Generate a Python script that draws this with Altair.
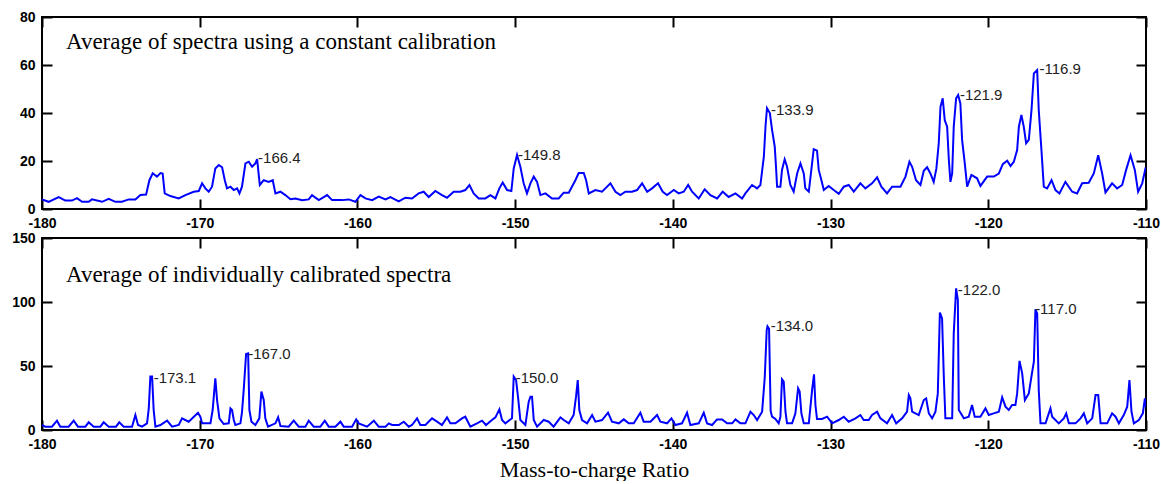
import altair as alt
import pandas as pd

# ---------------- data ----------------
top_mz = [-180.00, -179.58, -178.94, -178.52, -178.10, -177.78, -177.46, -177.04, -176.83, -176.19,
          -175.77, -175.35, -174.93, -174.50, -174.08, -173.76, -173.40, -173.19, -172.98, -172.71,
          -172.49, -172.35, -172.22, -171.86, -171.33, -170.91, -170.38, -170.06, -169.85, -169.64,
          -169.43, -169.22, -169.01, -168.79, -168.58, -168.41, -168.27, -168.05, -167.84, -167.63,
          -167.48, -167.32, -167.10, -166.89, -166.68, -166.47, -166.36, -166.19, -165.94, -165.62,
          -165.37, -165.20, -164.88, -164.57, -164.25, -163.93, -163.51, -163.09, -162.88, -162.45,
          -161.92, -161.61, -160.97, -160.55, -160.13, -159.81, -159.49, -159.07, -158.65, -158.22,
          -157.91, -157.38, -156.96, -156.54, -156.12, -155.80, -155.48, -155.06, -154.64, -154.32,
          -153.90, -153.47, -153.16, -152.90, -152.63, -152.31, -151.89, -151.57, -151.25, -151.00,
          -150.79, -150.51, -150.24, -150.09, -149.88, -149.67, -149.46, -149.25, -149.03, -148.82,
          -148.61, -148.40, -148.08, -147.66, -147.24, -146.92, -146.60, -146.18, -145.97, -145.65,
          -145.50, -145.33, -144.91, -144.49, -144.28, -143.96, -143.64, -143.33, -143.01, -142.59,
          -142.27, -141.95, -141.63, -141.32, -140.94, -140.64, -140.37, -139.94, -139.63, -139.31,
          -139.03, -138.78, -138.36, -137.98, -137.62, -137.19, -136.84, -136.46, -136.03, -135.61,
          -135.40, -134.98, -134.66, -134.45, -134.23, -134.12, -134.03, -133.85, -133.71, -133.54,
          -133.46, -133.39, -133.18, -133.08, -132.91, -132.76, -132.55, -132.34, -132.12, -131.91,
          -131.70, -131.60, -131.38, -131.22, -131.07, -130.86, -130.75, -130.58, -130.43, -130.12,
          -129.80, -129.48, -129.16, -128.85, -128.53, -128.11, -127.79, -127.37, -127.05, -126.78,
          -126.42, -126.10, -125.57, -125.25, -125.00, -124.83, -124.58, -124.30, -124.09, -123.88,
          -123.67, -123.46, -123.29, -123.14, -123.03, -122.89, -122.76, -122.61, -122.50, -122.40,
          -122.29, -122.19, -122.04, -121.91, -121.77, -121.66, -121.49, -121.34, -121.07, -120.71,
          -120.50, -120.07, -119.65, -119.33, -119.08, -118.80, -118.59, -118.38, -118.17, -118.06,
          -117.90, -117.75, -117.60, -117.43, -117.26, -117.11, -116.90, -116.80, -116.63, -116.48,
          -116.27, -115.99, -115.74, -115.49, -115.11, -114.68, -114.37, -114.05, -113.63, -113.31,
          -113.03, -112.78, -112.57, -112.15, -111.83, -111.51, -111.26, -110.98, -110.71, -110.50,
          -110.24, -110.03, -110.00]
top_int = [4, 3, 5, 3.5, 3.5, 4.5, 3, 3, 4, 3,
           4.2, 3, 3, 4, 4, 5.8, 6, 12, 14.9, 13.5,
           15, 14.8, 6.5, 5.4, 4.4, 5.8, 7.2, 7.5, 10.7, 8.6,
           7.2, 9.3, 16.9, 18.3, 17.4, 12, 8.6, 9.3, 7.9, 8.6,
           6.5, 9.3, 19, 19.7, 17.6, 19, 20.8, 10, 12, 11.3,
           12, 6.5, 7.2, 5.8, 4.1, 4.4, 3.7, 4, 5.8, 3.7,
           5.8, 3.7, 3.7, 4, 3, 5.8, 4.4, 3.7, 5.2, 4,
           5, 3.2, 4.7, 4.4, 6.5, 7.2, 5, 7.5, 5.8, 4.7,
           7.2, 7.2, 7.9, 10, 6.5, 4.4, 4.4, 5.8, 4.4, 8.6,
           11, 7.9, 7.5, 16.9, 22.5, 17.6, 10.7, 6.5, 10.7, 13.5,
           11.3, 5.8, 6.5, 4.4, 4.4, 6.8, 6.8, 12, 15, 15,
           12, 6.5, 7.9, 7.2, 8.6, 10.7, 7.2, 5.8, 7.2, 7.2,
           7.9, 10.7, 7.2, 8.6, 10.7, 7.2, 5.8, 7.9, 6.5, 7.2,
           10, 7.2, 4.4, 8.2, 5.8, 4.4, 7.2, 5, 6.5, 4.4,
           6.5, 10, 8.6, 10, 21.8, 35, 42, 40, 33, 26,
           17.6, 9.3, 9.3, 16.3, 20.7, 17.6, 10, 7.2, 14.8, 19,
           14.8, 8.6, 7.2, 16.3, 24.9, 24.3, 16.3, 12, 7.9, 9.6,
           7.9, 6.3, 9.3, 10, 7.2, 10.7, 8.6, 10.7, 13.2, 9.3,
           6.5, 9.3, 9.3, 13.5, 19.7, 17.6, 12, 10, 15.9, 17.4,
           14.8, 11.3, 16.9, 27.4, 42.6, 46.1, 37, 34.3, 20.4, 11.3,
           14.8, 34.3, 46.1, 47.5, 44, 28.8, 19, 9.3, 14.2, 12.8,
           9.6, 13.5, 13.5, 14.8, 18.7, 20.1, 17.9, 19.7, 24.6, 34.3,
           39.2, 34.3, 27.4, 28.8, 41.2, 56.5, 57.9, 41.2, 24.6, 9.3,
           8.6, 12, 7.9, 6.5, 11.3, 7.2, 6.5, 10.7, 10.9, 14.8,
           22.4, 14.8, 6.9, 10.7, 8.6, 10, 16.3, 22.4, 16.3, 7.2,
           10.7, 17, 17]

bot_mz = [-180.00, -179.79, -179.37, -179.05, -178.84, -178.31, -177.99, -177.72, -177.25, -177.04,
          -176.72, -176.30, -176.09, -175.77, -175.31, -175.10, -174.82, -174.29, -174.08, -173.91,
          -173.66, -173.34, -173.23, -173.13, -173.02, -172.92, -172.81, -172.49, -172.07, -171.75,
          -171.33, -171.12, -170.70, -170.11, -169.96, -169.85, -169.32, -169.18, -169.01, -168.90,
          -168.75, -168.48, -168.16, -168.05, -167.95, -167.84, -167.74, -167.42, -167.32, -167.21,
          -167.06, -166.93, -166.85, -166.72, -166.47, -166.22, -166.09, -165.94, -165.84, -165.67,
          -165.20, -165.03, -164.88, -164.36, -164.04, -163.72, -163.30, -163.09, -162.77, -162.35,
          -162.07, -161.82, -161.40, -161.08, -160.87, -160.34, -160.08, -159.92, -159.39, -158.96,
          -158.65, -158.22, -158.01, -157.80, -157.38, -157.06, -156.74, -156.54, -156.22, -156.01,
          -155.69, -155.27, -154.95, -154.64, -154.32, -154.11, -153.79, -153.37, -153.16, -152.84,
          -152.42, -152.10, -151.85, -151.47, -151.25, -151.00, -150.83, -150.62, -150.20, -150.09,
          -149.94, -149.82, -149.67, -149.35, -149.14, -149.03, -148.93, -148.82, -148.61, -148.19,
          -147.87, -147.56, -147.13, -146.92, -146.60, -146.29, -146.14, -146.03, -145.93, -145.76,
          -145.44, -145.12, -144.91, -144.49, -144.11, -143.86, -143.43, -143.11, -142.80, -142.48,
          -142.06, -141.85, -141.42, -141.00, -140.79, -140.37, -140.09, -139.84, -139.42, -139.10,
          -138.89, -138.36, -138.04, -137.83, -137.51, -137.20, -136.88, -136.56, -136.24, -136.03,
          -135.72, -135.40, -135.08, -134.87, -134.66, -134.34, -134.17, -134.05, -134.00, -133.90,
          -133.80, -133.71, -133.50, -133.29, -133.18, -133.08, -132.97, -132.86, -132.76, -132.44,
          -132.23, -132.06, -131.96, -131.85, -131.70, -131.38, -131.17, -131.05, -130.96, -130.86,
          -130.54, -130.22, -129.90, -129.48, -129.16, -128.85, -128.42, -128.11, -127.90, -127.58,
          -127.37, -127.05, -126.84, -126.42, -126.10, -125.84, -125.46, -125.15, -125.04, -124.94,
          -124.83, -124.41, -124.09, -123.94, -123.77, -123.56, -123.35, -123.20, -123.07, -122.93,
          -122.82, -122.72, -122.29, -122.19, -122.04, -121.93, -121.87, -121.55, -121.24, -121.03,
          -120.86, -120.50, -120.18, -119.97, -119.65, -119.33, -119.12, -118.91, -118.70, -118.49,
          -118.28, -118.17, -118.02, -117.85, -117.68, -117.43, -117.26, -117.11, -117.01, -116.90,
          -116.80, -116.69, -116.37, -116.06, -115.95, -115.53, -115.21, -115.06, -114.89, -114.47,
          -114.15, -113.94, -113.73, -113.41, -113.20, -113.03, -112.88, -112.46, -112.15, -111.93,
          -111.72, -111.41, -111.19, -111.05, -110.92, -110.77, -110.45, -110.20, -110.07, -110.00]
bot_int = [3.9, 2.6, 2.6, 7.3, 2.6, 2.6, 7.3, 2.6, 2.6, 6,
           2.6, 2.6, 6, 2.6, 2.6, 6, 2.6, 2.6, 11.7, 3.9,
           2.6, 5.2, 16.9, 41.7, 41.7, 15.6, 2.6, 3.9, 7.3, 2.6,
           3.9, 9.1, 6.5, 13.5, 10.4, 5.2, 5.2, 15.6, 40.4, 23.4,
           9.1, 4.7, 5.2, 16.9, 15.6, 7.8, 3.9, 5.2, 13.8, 31.3,
           59.4, 59.9, 15.6, 6.5, 3.9, 9.1, 30, 23.4, 9.1, 2.6,
           5.2, 9.9, 3.1, 2.6, 7.3, 2.6, 2.6, 7.3, 2.6, 2.6,
           7.3, 2.6, 2.6, 6.5, 2.6, 2.6, 8.3, 5.2, 2.6, 7.3,
           2.6, 2.6, 5.2, 3.9, 3.9, 6.5, 2.6, 3.9, 9.1, 3.9,
           3.9, 9.1, 6.5, 3.9, 9.9, 5.2, 5.2, 9.1, 10.4, 2.6,
           5.2, 7.3, 3.9, 7.8, 9.9, 16.1, 7.8, 5.2, 9.1, 41.7,
           39, 26, 7.8, 3.9, 22.1, 26, 26, 7.8, 2.6, 7.8,
           6.5, 2.6, 9.9, 7.8, 5.2, 11.7, 26, 39, 15.6, 7.8,
           5.2, 11.7, 6.5, 7.8, 13.5, 6.5, 5.2, 8.3, 5.2, 5.2,
           13.5, 6.5, 6.5, 11.7, 6.5, 5.2, 9.1, 3.9, 5.2, 13.5,
           3.9, 5.2, 13.5, 5.2, 3.9, 8.3, 8.3, 5.2, 5.2, 8.3,
           5.2, 5.2, 14.3, 11.7, 7.8, 14.3, 41.7, 78, 81, 79,
           15, 10.4, 8.6, 5.2, 10.4, 39.6, 37.8, 14.3, 5.2, 5.2,
           13, 32.6, 30, 13, 5.2, 5.2, 31.3, 43.5, 19.5, 8.6,
           8.6, 10.4, 5.2, 7.8, 10.4, 6.5, 9.1, 11.7, 7.8, 7.8,
           11.7, 14.3, 9.1, 5.2, 11.7, 5.2, 9.1, 14.3, 27.3, 24.7,
           14.3, 11.7, 23.4, 24.7, 13, 9.1, 14.3, 28.6, 91.7, 87.2,
           41.7, 9.1, 9.1, 75.5, 110.7, 101.6, 15.6, 9.1, 10.4, 19.5,
           10.4, 10.4, 16.9, 11.7, 13, 14.3, 25.5, 18.2, 15.6, 19.5,
           19.5, 28.6, 54, 44.3, 23.4, 28.6, 42.1, 53.3, 94.3, 91.1,
           31.3, 5.2, 5.2, 16.9, 10.4, 5.2, 9.1, 13, 5.2, 5.2,
           9.1, 13, 5.2, 9.1, 27.3, 27.3, 5.2, 5.2, 13, 10.4,
           5.2, 11.7, 18.2, 39, 14.3, 5.2, 7.8, 13, 24.7, 18]

top_peak_mz = [-166.30, -149.82, -133.78, -121.80, -116.75]
top_peak_int = [21.1, 22.5, 41.3, 47.5, 58.2]
top_peak_text = ["-166.4", "-149.8", "-133.9", "-121.9", "-116.9"]

bot_peak_mz = [-172.92, -166.93, -149.96, -133.80, -121.93, -117.03]
bot_peak_int = [40.8, 59.4, 40.9, 81.2, 109.4, 94.5]
bot_peak_text = ["-173.1", "-167.0", "-150.0", "-134.0", "-122.0", "-117.0"]

top_title = ["Average of spectra using a constant calibration"]
bot_title = ["Average of individually calibrated spectra"]
title_mz = [-178.48]
top_title_int = [66.5]
bot_title_int = [116.0]

x_ticks = [-180, -170, -160, -150, -140, -130, -120, -110]
top_y_ticks = [0, 20, 40, 60, 80]
bot_y_ticks = [0, 50, 100, 150]
x_title = "Mass-to-charge Ratio"

W, H = 1104, 192
SANS = "Liberation Sans"
SERIF = "Liberation Serif"


def panel(mz, inten, pk_mz, pk_int, pk_txt, ttl, ttl_int, ymax, yticks, xtitle):
    line_df = pd.DataFrame({"mz": mz, "intensity": inten})
    pk_df = pd.DataFrame({"mz": pk_mz, "intensity": pk_int, "label": pk_txt})
    tt_df = pd.DataFrame({"mz": title_mz, "intensity": ttl_int, "label": ttl})

    xs = alt.Scale(domain=[-180, -110], nice=False, zero=False)
    ys = alt.Scale(domain=[0, ymax], nice=False, zero=True)

    x_bottom = alt.Axis(orient="bottom", values=x_ticks, offset=-10, tickSize=10, domain=False,
                        grid=False, labelPadding=7, labelFont=SANS, labelFontWeight="bold",
                        labelFontSize=14, labelColor="black", tickColor="black", tickWidth=2,
                        labelExpr="'' + datum.value", labelFlush=False,
                        title=xtitle if xtitle else None,
                        titleFont=SERIF, titleFontSize=22, titleFontWeight="normal",
                        titleColor="black", titlePadding=8)
    y_left = alt.Axis(orient="left", values=yticks, offset=-10, tickSize=10, domain=False,
                      grid=False, labelPadding=7, labelFont=SANS, labelFontWeight="bold",
                      labelFontSize=14, labelColor="black", tickColor="black", tickWidth=2,
                      labelExpr="'' + datum.value", labelFlush=False, title=None)
    x_top = alt.Axis(orient="top", values=x_ticks, offset=-10, tickSize=10, domain=False,
                     grid=False, labels=False, tickColor="black", tickWidth=2, title=None)
    y_right = alt.Axis(orient="right", values=yticks, offset=-10, tickSize=10, domain=False,
                       grid=False, labels=False, tickColor="black", tickWidth=2, title=None)

    line = alt.Chart(line_df).mark_line(color="#0000ff", strokeWidth=2, clip=True).encode(
        x=alt.X("mz:Q", scale=xs, axis=x_bottom),
        y=alt.Y("intensity:Q", scale=ys, axis=y_left),
    )
    peaks = alt.Chart(pk_df).mark_text(align="left", baseline="middle", font=SANS,
                                       fontSize=15, color="#222222").encode(
        x=alt.X("mz:Q", scale=xs, axis=x_top),
        y=alt.Y("intensity:Q", scale=ys, axis=y_right),
        text="label:N",
    )
    ttl_layer = alt.Chart(tt_df).mark_text(align="left", baseline="alphabetic", font=SERIF,
                                           fontSize=23, color="black").encode(
        x=alt.X("mz:Q", scale=xs, axis=None),
        y=alt.Y("intensity:Q", scale=ys, axis=None),
        text="label:N",
    )
    return alt.layer(line, peaks, ttl_layer).resolve_axis(
        x="independent", y="independent").properties(width=W, height=H)


top = panel(top_mz, top_int, top_peak_mz, top_peak_int, top_peak_text, top_title,
            top_title_int, 80, top_y_ticks, None)
bottom = panel(bot_mz, bot_int, bot_peak_mz, bot_peak_int, bot_peak_text, bot_title,
               bot_title_int, 150, bot_y_ticks, x_title)

chart = alt.vconcat(top, bottom, spacing=29, bounds="flush").properties(
    padding={"left": 10, "top": 9, "right": 0, "bottom": 0},
    background="white",
).configure_view(stroke="black", strokeWidth=2)

chart.save("out.html", embed_options={"renderer": "svg", "actions": False})
